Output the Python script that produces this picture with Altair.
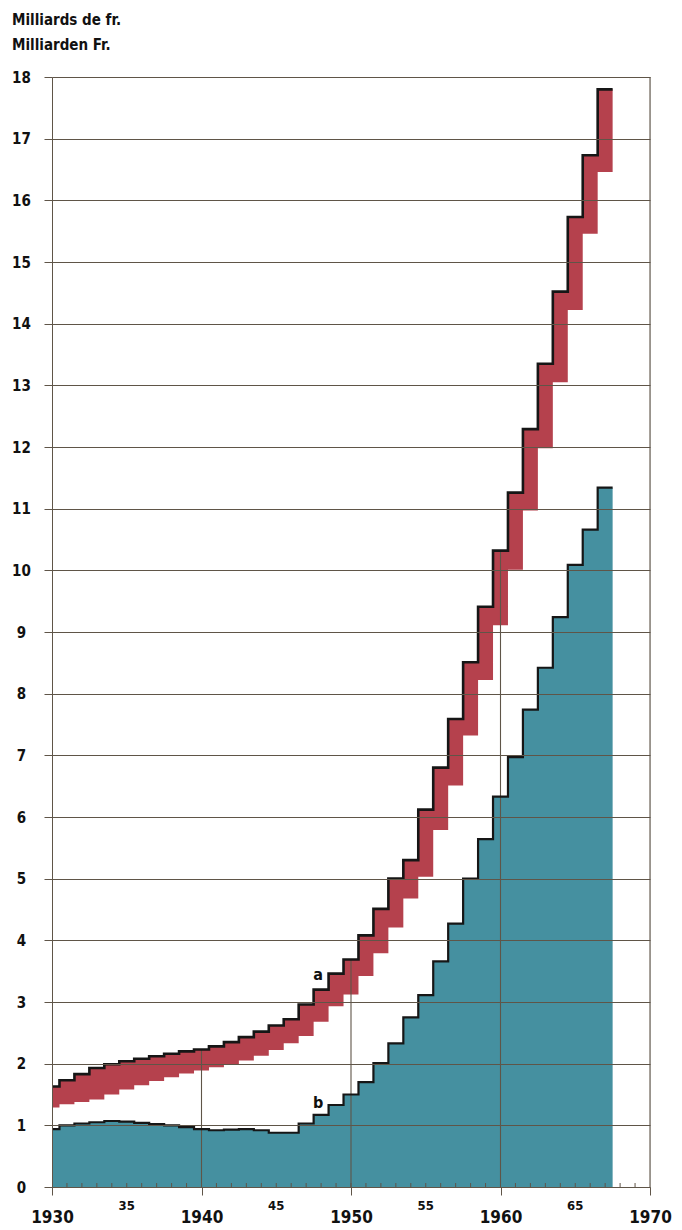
import altair as alt
import pandas as pd

FONT = "DejaVu Sans Condensed, Liberation Sans Narrow, DejaVu Sans"

years = list(range(1930, 1968))
a_top = [1.63, 1.73, 1.83, 1.93, 1.99, 2.04, 2.08, 2.12, 2.16, 2.20,
         2.23, 2.28, 2.35, 2.43, 2.52, 2.62, 2.72, 2.96, 3.20, 3.46,
         3.69, 4.08, 4.51, 5.00, 5.30, 6.12, 6.80, 7.59, 8.51, 9.41,
         10.32, 11.26, 12.29, 13.35, 14.52, 15.73, 16.73, 17.80]
a_bottom = [1.29, 1.34, 1.38, 1.42, 1.50, 1.58, 1.65, 1.72, 1.78, 1.84,
            1.89, 1.94, 1.99, 2.05, 2.13, 2.22, 2.33, 2.45, 2.68, 2.93,
            3.12, 3.42, 3.79, 4.21, 4.68, 5.03, 5.79, 6.51, 7.32, 8.22,
            9.11, 10.01, 10.97, 11.98, 13.05, 14.22, 15.46, 16.46]
b_vals = [0.94, 1.00, 1.03, 1.05, 1.07, 1.06, 1.04, 1.02, 1.00, 0.97,
          0.94, 0.92, 0.93, 0.94, 0.92, 0.88, 0.88, 1.03, 1.17, 1.33,
          1.50, 1.70, 2.01, 2.33, 2.75, 3.11, 3.66, 4.27, 5.00, 5.64,
          6.33, 6.97, 7.74, 8.42, 9.24, 10.09, 10.66, 11.34]

major_years = [1930, 1940, 1950, 1960, 1970]
minor_labels = ["35", "45", "55", "65"]
minor_label_years = [1935, 1945, 1955, 1965]
drop_years = [1940, 1950, 1960]
series_labels = ["a", "b"]
series_label_x = [1947.8, 1947.8]
series_label_y = [3.43, 1.37]
y_ticks = list(range(0, 19))
title_line1 = "Milliards de fr."
title_line2 = "Milliarden Fr."

W, H = 598, 1110
RED = "#b5414d"
BLUE = "#4590a0"
GRID = "#5f5548"
INK = "#161616"

rows = []
for i, yr in enumerate(years):
    rows.append({"x": yr - 0.5, "top": a_top[i], "bottom": a_bottom[i], "b": b_vals[i]})
rows.append({"x": years[-1] + 0.5, "top": a_top[-1], "bottom": a_bottom[-1], "b": b_vals[-1]})
df = pd.DataFrame(rows)

xs = alt.Scale(domain=[1930, 1970], nice=False, zero=False)
ys = alt.Scale(domain=[0, 18], nice=False)

x_axis = alt.Axis(values=major_years, format="d", title=None, grid=False,
                  labelFont=FONT, labelFontSize=17, labelFontWeight="bold",
                  labelColor="#111", tickSize=8, tickColor=GRID, domainColor=GRID,
                  labelPadding=14, labelFlush=False)
y_axis = alt.Axis(values=y_ticks, format="d", title=None, grid=True, gridColor=GRID,
                  gridWidth=1.1, tickSize=8, tickColor=GRID, domainColor=GRID,
                  labelFont=FONT, labelFontSize=15, labelFontWeight="bold",
                  labelColor="#111", labelAlign="center", labelPadding=23, zindex=1)

base = alt.Chart(df)

red_band = base.mark_area(interpolate="step-after", color=RED, clip=True).encode(
    x=alt.X("x:Q", scale=xs, axis=x_axis),
    y=alt.Y("top:Q", scale=ys, axis=y_axis),
    y2="bottom:Q",
)
blue_area = base.mark_area(interpolate="step-after", color=BLUE, clip=True).encode(
    x=alt.X("x:Q", scale=xs),
    y=alt.Y("b:Q", scale=ys),
)

drop_df = pd.DataFrame({"x": drop_years,
                        "top": [a_top[years.index(d)] for d in drop_years]})
drops = alt.Chart(drop_df).mark_rule(color=GRID, strokeWidth=1.1).encode(
    x=alt.X("x:Q", scale=xs), y=alt.Y("top:Q", scale=ys),
    y2=alt.datum(0)
)

right_df = pd.DataFrame({"x": [1970]})
right_border = alt.Chart(right_df).mark_rule(color=GRID, strokeWidth=1.1).encode(
    x=alt.X("x:Q", scale=xs), y=alt.value(0), y2=alt.value(H)
)

tick_df = pd.DataFrame({"x": list(range(1931, 1970))})
minor_ticks = alt.Chart(tick_df).mark_rule(color=GRID, strokeWidth=1).encode(
    x=alt.X("x:Q", scale=xs), y=alt.value(H - 4), y2=alt.value(H)
)

top_line = base.mark_line(interpolate="step-after", color=INK, strokeWidth=2.6,
                          clip=True).encode(
    x=alt.X("x:Q", scale=xs), y=alt.Y("top:Q", scale=ys)
)
b_line = base.mark_line(interpolate="step-after", color=INK, strokeWidth=2.2,
                        clip=True).encode(
    x=alt.X("x:Q", scale=xs), y=alt.Y("b:Q", scale=ys)
)

lab_df = pd.DataFrame({"t": series_labels, "x": series_label_x, "top": series_label_y})
series_text = alt.Chart(lab_df).mark_text(font=FONT, fontSize=16, fontWeight="bold",
                                          color="#111").encode(
    x=alt.X("x:Q", scale=xs), y=alt.Y("top:Q", scale=ys),
    text="t:N"
)

minor_df = pd.DataFrame({"t": minor_labels, "x": minor_label_years})
minor_text = alt.Chart(minor_df).mark_text(font=FONT, fontSize=13, fontWeight="bold",
                                           color="#111", baseline="middle").encode(
    x=alt.X("x:Q", scale=xs), y=alt.value(H + 19), text="t:N"
)

t1 = alt.Chart(pd.DataFrame({"t": [title_line1]})).mark_text(
    font=FONT, fontSize=15, fontWeight="bold", color="#111", align="left",
    baseline="middle").encode(x=alt.value(-40), y=alt.value(-57), text="t:N")
t2 = alt.Chart(pd.DataFrame({"t": [title_line2]})).mark_text(
    font=FONT, fontSize=15, fontWeight="bold", color="#111", align="left",
    baseline="middle").encode(x=alt.value(-40), y=alt.value(-32), text="t:N")

chart = alt.layer(
    red_band, blue_area, drops, right_border, minor_ticks,
    top_line, b_line, series_text, minor_text, t1, t2
).properties(
    width=W, height=H,
    autosize=alt.AutoSizeParams(type="none"),
    padding={"left": 44, "top": 69, "right": 24, "bottom": 42},
).configure_view(stroke=None).configure(background="white")

chart.save("out.html", embed_options={"renderer": "svg", "actions": False})
